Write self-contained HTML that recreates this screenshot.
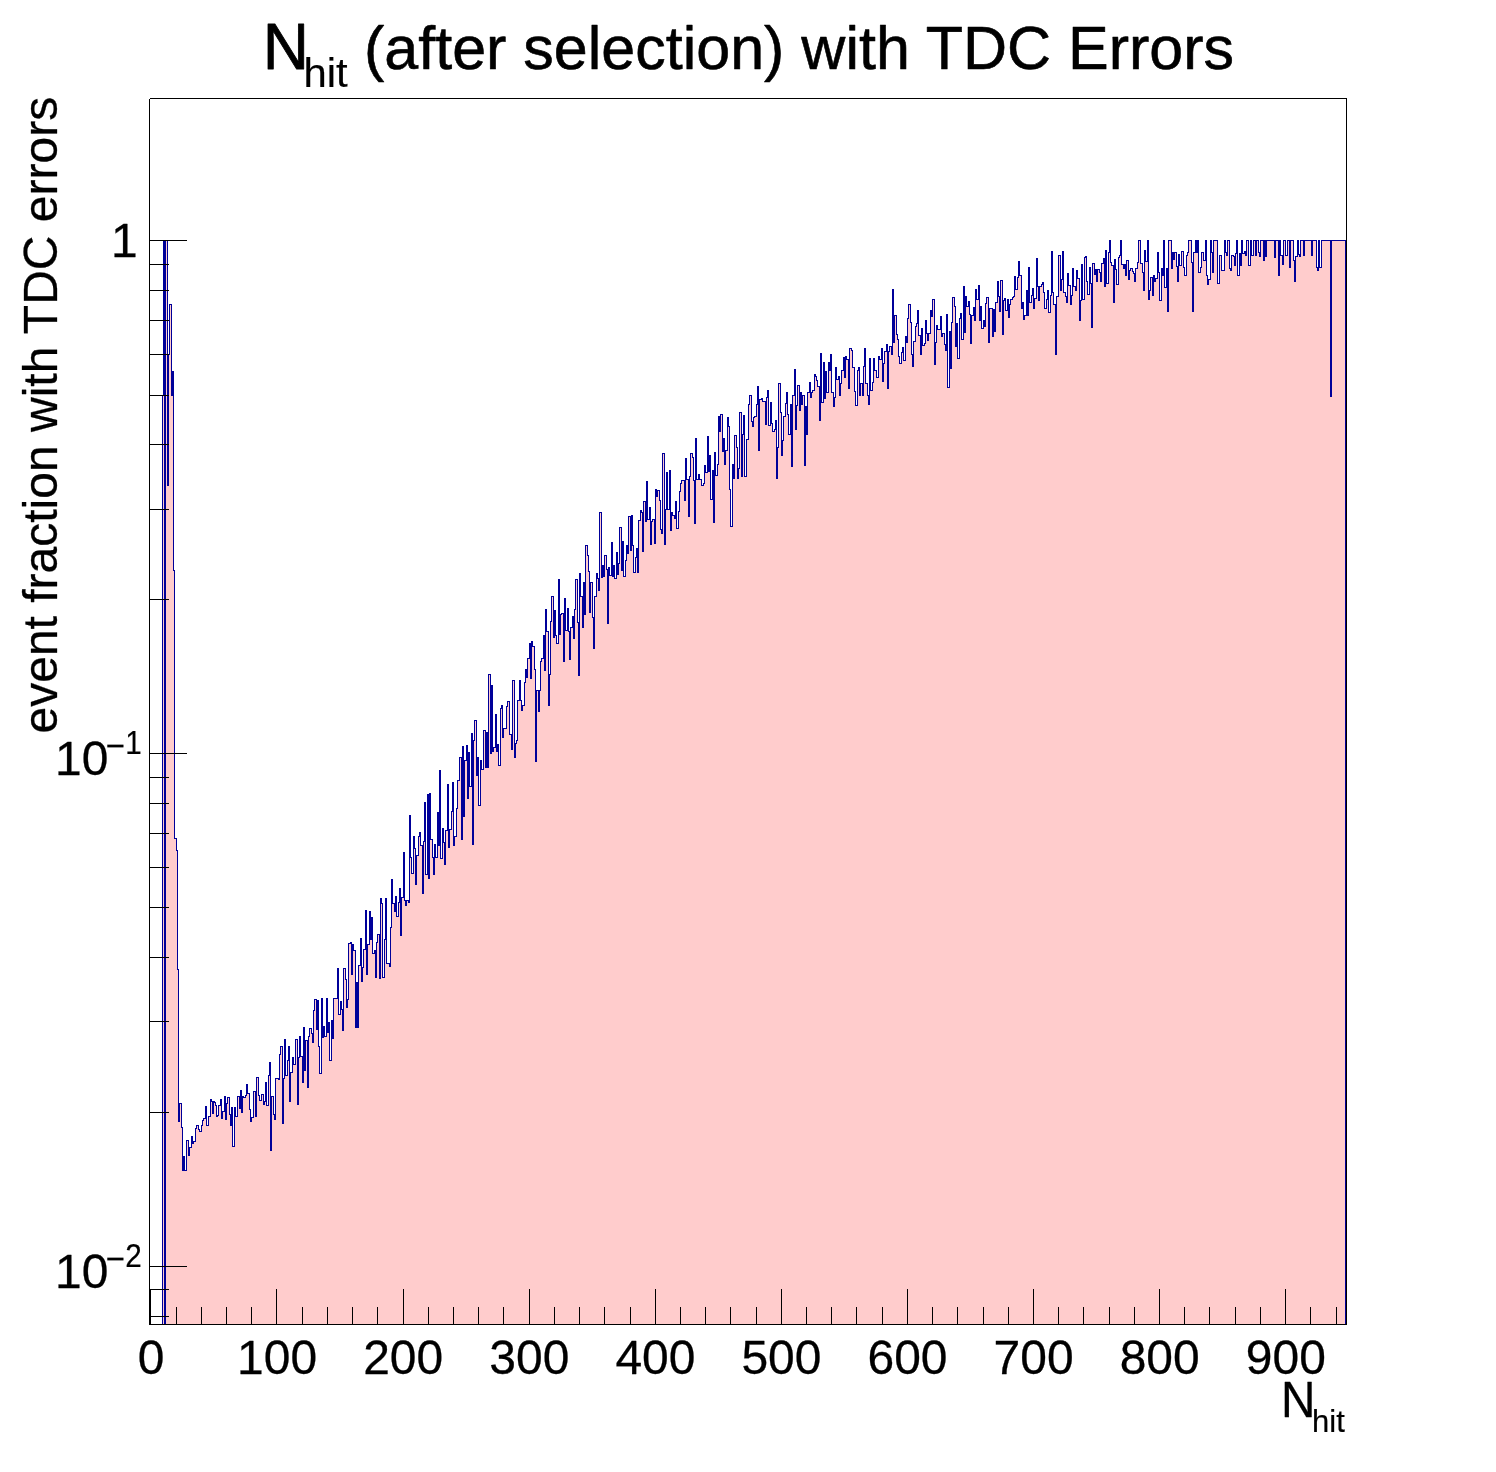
<!DOCTYPE html><html><head><meta charset="utf-8"><title>Nhit (after selection) with TDC Errors</title>
<style>html,body{margin:0;padding:0;background:#fff}svg{display:block}text{font-family:"Liberation Sans",sans-serif;fill:#000}</style></head><body>
<svg width="1496" height="1472" viewBox="0 0 1496 1472">
<rect width="1496" height="1472" fill="#fff"/>
<g shape-rendering="crispEdges">
<rect x="163" y="395" width="1" height="929" fill="#ffcccc"/>
<rect x="166" y="240" width="1" height="1084" fill="#ffcccc"/>
<rect x="167" y="486" width="2" height="838" fill="#ffcccc"/>
<rect x="169" y="354" width="1" height="970" fill="#ffcccc"/>
<rect x="170" y="304" width="1" height="1020" fill="#ffcccc"/>
<rect x="171" y="395" width="3" height="929" fill="#ffcccc"/>
<rect x="174" y="570" width="1" height="754" fill="#ffcccc"/>
<rect x="175" y="838" width="1" height="486" fill="#ffcccc"/>
<rect x="176" y="851" width="1" height="473" fill="#ffcccc"/>
<rect x="177" y="969" width="1" height="355" fill="#ffcccc"/>
<rect x="162" y="395" width="1" height="929" fill="#000099"/>
<rect x="163" y="240" width="1" height="156" fill="#000099"/>
<rect x="164" y="240" width="2" height="1084" fill="#000099"/>
<rect x="166" y="240" width="1" height="1" fill="#000099"/>
<rect x="167" y="240" width="1" height="246" fill="#000099"/>
<rect x="168" y="354" width="1" height="132" fill="#000099"/>
<rect x="169" y="304" width="1" height="51" fill="#000099"/>
<rect x="170" y="304" width="1" height="1" fill="#000099"/>
<rect x="171" y="304" width="1" height="92" fill="#000099"/>
<rect x="172" y="371" width="1" height="25" fill="#000099"/>
<rect x="173" y="371" width="1" height="200" fill="#000099"/>
<rect x="174" y="570" width="1" height="269" fill="#000099"/>
<rect x="175" y="838" width="1" height="1" fill="#000099"/>
<rect x="176" y="838" width="1" height="13" fill="#000099"/>
<rect x="177" y="850" width="1" height="120" fill="#000099"/>
<path d="M178 1324V1121H179V1103H181V1127H182V1170H183V1156H184V1170H186V1140H188V1155H189V1147H191V1136H192V1143H193V1141H195V1128H196V1125H198V1129H199V1131H201V1125H202V1120H203V1118H205V1106H206V1125H208V1116H210V1099H211V1101H212V1113H213V1101H214V1102H215V1105H216V1116H217V1115H218V1105H220V1099H221V1118H222V1111H224V1096H225V1119H226V1103H227V1097H229V1114H230V1125H231V1107H232V1146H234V1107H235V1116H237V1096H239V1108H240V1090H241V1112H242V1096H243V1097H245V1095H246V1084H247V1093H249V1109H250V1121H251V1117H253V1091H255V1116H256V1077H258V1095H259V1100H261V1094H263V1104H264V1101H265V1082H266V1105H268V1075H269V1062H270V1150H271V1096H273V1114H274V1119H275V1078H278V1079H279V1054H280V1046H282V1123H283V1078H284V1039H285V1075H287V1060H288V1046H289V1101H290V1072H292V1057H293V1064H295V1039H297V1104H298V1057H299V1036H300V1056H302V1082H303V1027H304V1070H305V1040H307V1087H308V1036H309V1028H311V1033H312V1042H313V1010H314V999H316V1029H317V1000H318V1046H319V1073H321V998H322V1037H323V1026H324V1036H326V998H327V1032H328V1022H329V1060H331V1020H332V1038H333V998H335V998H336V998H337V968H338V1014H340V1001H341V1009H342V1030H343V968H345V979H346V1007H347V999H348V943H350V942H351V974H352V944H353V950H355V1027H356V982H357V1027H358V965H360V938H361V981H362V967H363V949H365V910H366V974H367V944H369V911H370V939H371V917H372V953H374V950H375V977H376V942H377V934H379V978H380V898H381V903H382V977H384V939H385V898H386V963H389V966H390V927H391V879H392V903H394V911H395V896H396V916H398V902H399V888H400V935H401V897H403V852H404V900H405V905H406V900H408V902H409V815H410V857H411V873H413V836H414V848H415V884H416V855H418V836H419V832H420V845H422V893H423V841H424V802H425V874H427V794H428V878H429V793H430V839H432V857H433V874H434V844H435V857H437V812H438V845H439V770H440V858H442V828H443V842H444V864H445V830H447V784H448V847H449V829H451V811H452V782H453V845H454V836H456V808H457V780H459V757H461V839H462V746H463V816H464V760H466V745H467V798H468V752H469V786H471V733H472V844H473V740H474V720H476V775H477V757H478V805H480V760H481V769H483V730H485V767H486V732H487V767H488V674H490V753H491V685H492V751H493V747H495V714H496V751H497V744H498V765H500V708H501V705H502V737H503V728H506V706H507V701H509V734H511V749H512V680H514V757H515V743H516V740H517V700H519V680H520V700H521V710H522V705H524V682H525V669H526V677H527V658H529V643H530V678H531V641H532V646H534V669H535V761H536V690H538V711H539V690H540V661H541V658H543V635H544V670H545V609H546V631H548V705H549V674H550V621H551V596H553V637H554V610H555V635H556V643H558V579H559V634H560V614H561V613H563V661H564V598H565V630H567V608H568V631H569V659H570V627H572V616H573V638H574V609H575V579H577V622H578V675H579V573H580V596H582V627H583V582H584V614H585V545H587V555H588V571H589V612H590V582H592V617H593V648H594V596H596V573H597V578H598V590H599V512H601V577H602V565H603V576H604V555H606V569H607V623H608V567H609V575H611V542H612V576H613V565H614V578H616V552H617V574H618V563H619V527H621V570H622V541H623V576H625V560H626V545H627V553H628V516H630V550H631V515H632V545H633V572H635V557H636V548H637V572H638V520H640V510H641V512H642V551H643V501H645V521H646V481H647V519H649V507H650V544H651V521H652V519H654V543H655V489H656V496H657V490H659V500H660V529H661V533H662V453H664V544H665V509H666V472H667V509H669V470H670V530H671V512H672V515H674V518H675V501H676V528H678V511H679V491H680V483H681V480H684V500H685V458H686V479H688V516H689V476H690V453H692V457H693V480H694V523H695V438H696V479H698V474H699V479H701V485H703V483H704V465H705V472H707V436H708V471H709V455H710V499H712V470H713V522H714V452H715V475H717V464H718V416H719V431H720V414H722V451H723V438H724V464H725V450H727V417H728V426H729V489H730V526H732V464H733V478H734V435H736V447H737V478H738V468H739V412H741V476H742V434H743V415H744V476H746V439H748V404H749V395H751V421H752V426H753V417H754V416H756V404H757V386H758V450H759V399H761V398H762V401H765V424H766V397H767V390H768V425H770V402H771V423H772V431H774V429H775V420H776V478H777V447H778V383H780V412H781V455H782V440H783V416H785V403H786V392H787V414H788V434H790V404H791V466H792V395H794V369H795V429H796V405H797V385H799V410H800V392H801V404H802V395H804V465H805V406H806V434H807V392H809V382H810V397H811V392H812V390H814V374H815V376H816V380H817V386H819V420H820V353H821V402H823V362H824V398H825V371H826V392H828V362H829V370H830V354H831V392H833V406H834V397H835V367H836V379H838V376H839V395H840V383H841V370H843V357H844V377H845V356H846V359H848V388H849V348H851V350H852V367H854V391H855V405H857V370H858V367H859V395H860V383H862V395H863V366H864V348H865V383H867V395H868V404H869V358H870V390H872V382H873V358H874V370H876V377H878V356H879V359H881V348H882V381H883V363H884V351H886V344H887V388H888V351H889V346H891V354H892V289H893V342H894V315H896V334H897V339H898V356H899V363H901V352H902V347H903V360H905V336H906V342H907V318H908V304H910V322H911V354H912V366H913V341H915V326H916V323H917V310H918V335H920V354H921V328H922V345H924V343H925V320H926V333H927V340H928V333H930V310H931V316H932V299H934V364H935V342H936V325H937V329H940V316H941V336H942V333H944V344H945V350H946V314H947V387H949V331H950V368H951V322H952V297H954V306H955V346H956V323H957V358H959V318H960V313H961V339H963V286H964V332H965V296H966V306H968V301H969V314H970V343H971V315H973V307H974V320H975V289H976V299H978V285H979V320H980V306H981V328H983V320H984V326H985V303H986V297H988V342H989V308H992V336H993V309H994V331H995V302H997V281H998V296H999V311H1000V280H1002V334H1003V300H1004V298H1005V310H1007V299H1008V317H1009V304H1010V299H1012V297H1013V296H1014V276H1015V289H1017V277H1018V261H1019V275H1021V308H1022V302H1023V319H1024V315H1026V290H1027V315H1028V267H1029V302H1031V295H1032V288H1033V308H1034V298H1036V258H1037V286H1038V300H1039V286H1041V284H1042V282H1043V292H1044V308H1046V299H1047V290H1048V312H1050V295H1051V251H1052V292H1053V304H1055V354H1056V296H1058V255H1060V290H1061V279H1062V251H1063V292H1065V296H1066V302H1067V273H1068V285H1070V304H1071V295H1072V268H1073V286H1075V290H1076V270H1077V278H1079V320H1080V300H1081V264H1082V299H1084V257H1085V256H1086V281H1087V294H1089V267H1090V283H1091V327H1092V263H1094V274H1095V269H1096V281H1097V269H1099V272H1100V281H1101V263H1103V258H1104V286H1105V250H1106V283H1108V252H1109V240H1110V262H1111V265H1113V302H1114V259H1115V269H1116V284H1118V257H1119V255H1120V240H1121V264H1123V268H1124V264H1125V275H1126V260H1128V279H1129V270H1130V268H1132V271H1133V273H1134V281H1135V268H1137V262H1138V240H1140V263H1142V272H1143V290H1144V250H1145V261H1147V240H1148V299H1149V290H1150V277H1152V295H1153V275H1154V281H1155V278H1157V252H1158V272H1159V300H1161V268H1162V275H1163V240H1164V287H1166V268H1167V311H1168V240H1171V268H1172V252H1173V259H1174V252H1176V266H1177V281H1178V254H1179V265H1181V251H1183V267H1184V275H1186V255H1187V252H1188V240H1191V262H1192V311H1193V252H1195V240H1196V252H1197V240H1198V272H1200V267H1201V252H1203V260H1205V240H1206V275H1207V284H1208V279H1210V240H1211V252H1212V272H1213V240H1217V283H1219V255H1221V270H1224V240H1225V252H1226V255H1227V240H1229V268H1230V270H1231V255H1233V256H1234V265H1235V253H1236V240H1237V275H1239V253H1240V265H1241V240H1242V253H1244V251H1245V255H1246V240H1248V265H1250V240H1251V255H1253V240H1255V255H1256V240H1258V252H1259V256H1260V240H1263V260H1264V240H1265V256H1266V240H1274V257H1275V240H1278V275H1279V240H1280V255H1282V264H1283V240H1285V255H1287V240H1289V267H1290V240H1293V260H1294V281H1295V256H1297V240H1298V254H1299V256H1300V240H1303V255H1304V240H1311V255H1312V240H1316V267H1317V270H1318V240H1319V267H1321V240H1330V396H1331V240H1346V1324Z" fill="#ffcccc" stroke="none"/>
<path d="M178.5 969.5V1121.5H179.5V1103.5H181.5V1127.5H182.5V1170.5H183.5V1156.5H184.5V1170.5H186.5V1140.5H188.5V1155.5H189.5V1147.5H191.5V1136.5H192.5V1143.5H193.5V1141.5H195.5V1128.5H196.5V1125.5H198.5V1129.5H199.5V1131.5H201.5V1125.5H202.5V1120.5H203.5V1118.5H205.5V1106.5H206.5V1125.5H208.5V1116.5H210.5V1099.5H211.5V1101.5H212.5V1113.5H213.5V1101.5H214.5V1102.5H215.5V1105.5H216.5V1116.5H217.5V1115.5H218.5V1105.5H220.5V1099.5H221.5V1118.5H222.5V1111.5H224.5V1096.5H225.5V1119.5H226.5V1103.5H227.5V1097.5H229.5V1114.5H230.5V1125.5H231.5V1107.5H232.5V1146.5H234.5V1107.5H235.5V1116.5H237.5V1096.5H239.5V1108.5H240.5V1090.5H241.5V1112.5H242.5V1096.5H243.5V1097.5H245.5V1095.5H246.5V1084.5H247.5V1093.5H249.5V1109.5H250.5V1121.5H251.5V1117.5H253.5V1091.5H255.5V1116.5H256.5V1077.5H258.5V1095.5H259.5V1100.5H261.5V1094.5H263.5V1104.5H264.5V1101.5H265.5V1082.5H266.5V1105.5H268.5V1075.5H269.5V1062.5H270.5V1150.5H271.5V1096.5H273.5V1114.5H274.5V1119.5H275.5V1078.5H278.5V1079.5H279.5V1054.5H280.5V1046.5H282.5V1123.5H283.5V1078.5H284.5V1039.5H285.5V1075.5H287.5V1060.5H288.5V1046.5H289.5V1101.5H290.5V1072.5H292.5V1057.5H293.5V1064.5H295.5V1039.5H297.5V1104.5H298.5V1057.5H299.5V1036.5H300.5V1056.5H302.5V1082.5H303.5V1027.5H304.5V1070.5H305.5V1040.5H307.5V1087.5H308.5V1036.5H309.5V1028.5H311.5V1033.5H312.5V1042.5H313.5V1010.5H314.5V999.5H316.5V1029.5H317.5V1000.5H318.5V1046.5H319.5V1073.5H321.5V998.5H322.5V1037.5H323.5V1026.5H324.5V1036.5H326.5V998.5H327.5V1032.5H328.5V1022.5H329.5V1060.5H331.5V1020.5H332.5V1038.5H333.5V998.5H335.5V998.5H336.5V998.5H337.5V968.5H338.5V1014.5H340.5V1001.5H341.5V1009.5H342.5V1030.5H343.5V968.5H345.5V979.5H346.5V1007.5H347.5V999.5H348.5V943.5H350.5V942.5H351.5V974.5H352.5V944.5H353.5V950.5H355.5V1027.5H356.5V982.5H357.5V1027.5H358.5V965.5H360.5V938.5H361.5V981.5H362.5V967.5H363.5V949.5H365.5V910.5H366.5V974.5H367.5V944.5H369.5V911.5H370.5V939.5H371.5V917.5H372.5V953.5H374.5V950.5H375.5V977.5H376.5V942.5H377.5V934.5H379.5V978.5H380.5V898.5H381.5V903.5H382.5V977.5H384.5V939.5H385.5V898.5H386.5V963.5H389.5V966.5H390.5V927.5H391.5V879.5H392.5V903.5H394.5V911.5H395.5V896.5H396.5V916.5H398.5V902.5H399.5V888.5H400.5V935.5H401.5V897.5H403.5V852.5H404.5V900.5H405.5V905.5H406.5V900.5H408.5V902.5H409.5V815.5H410.5V857.5H411.5V873.5H413.5V836.5H414.5V848.5H415.5V884.5H416.5V855.5H418.5V836.5H419.5V832.5H420.5V845.5H422.5V893.5H423.5V841.5H424.5V802.5H425.5V874.5H427.5V794.5H428.5V878.5H429.5V793.5H430.5V839.5H432.5V857.5H433.5V874.5H434.5V844.5H435.5V857.5H437.5V812.5H438.5V845.5H439.5V770.5H440.5V858.5H442.5V828.5H443.5V842.5H444.5V864.5H445.5V830.5H447.5V784.5H448.5V847.5H449.5V829.5H451.5V811.5H452.5V782.5H453.5V845.5H454.5V836.5H456.5V808.5H457.5V780.5H459.5V757.5H461.5V839.5H462.5V746.5H463.5V816.5H464.5V760.5H466.5V745.5H467.5V798.5H468.5V752.5H469.5V786.5H471.5V733.5H472.5V844.5H473.5V740.5H474.5V720.5H476.5V775.5H477.5V757.5H478.5V805.5H480.5V760.5H481.5V769.5H483.5V730.5H485.5V767.5H486.5V732.5H487.5V767.5H488.5V674.5H490.5V753.5H491.5V685.5H492.5V751.5H493.5V747.5H495.5V714.5H496.5V751.5H497.5V744.5H498.5V765.5H500.5V708.5H501.5V705.5H502.5V737.5H503.5V728.5H506.5V706.5H507.5V701.5H509.5V734.5H511.5V749.5H512.5V680.5H514.5V757.5H515.5V743.5H516.5V740.5H517.5V700.5H519.5V680.5H520.5V700.5H521.5V710.5H522.5V705.5H524.5V682.5H525.5V669.5H526.5V677.5H527.5V658.5H529.5V643.5H530.5V678.5H531.5V641.5H532.5V646.5H534.5V669.5H535.5V761.5H536.5V690.5H538.5V711.5H539.5V690.5H540.5V661.5H541.5V658.5H543.5V635.5H544.5V670.5H545.5V609.5H546.5V631.5H548.5V705.5H549.5V674.5H550.5V621.5H551.5V596.5H553.5V637.5H554.5V610.5H555.5V635.5H556.5V643.5H558.5V579.5H559.5V634.5H560.5V614.5H561.5V613.5H563.5V661.5H564.5V598.5H565.5V630.5H567.5V608.5H568.5V631.5H569.5V659.5H570.5V627.5H572.5V616.5H573.5V638.5H574.5V609.5H575.5V579.5H577.5V622.5H578.5V675.5H579.5V573.5H580.5V596.5H582.5V627.5H583.5V582.5H584.5V614.5H585.5V545.5H587.5V555.5H588.5V571.5H589.5V612.5H590.5V582.5H592.5V617.5H593.5V648.5H594.5V596.5H596.5V573.5H597.5V578.5H598.5V590.5H599.5V512.5H601.5V577.5H602.5V565.5H603.5V576.5H604.5V555.5H606.5V569.5H607.5V623.5H608.5V567.5H609.5V575.5H611.5V542.5H612.5V576.5H613.5V565.5H614.5V578.5H616.5V552.5H617.5V574.5H618.5V563.5H619.5V527.5H621.5V570.5H622.5V541.5H623.5V576.5H625.5V560.5H626.5V545.5H627.5V553.5H628.5V516.5H630.5V550.5H631.5V515.5H632.5V545.5H633.5V572.5H635.5V557.5H636.5V548.5H637.5V572.5H638.5V520.5H640.5V510.5H641.5V512.5H642.5V551.5H643.5V501.5H645.5V521.5H646.5V481.5H647.5V519.5H649.5V507.5H650.5V544.5H651.5V521.5H652.5V519.5H654.5V543.5H655.5V489.5H656.5V496.5H657.5V490.5H659.5V500.5H660.5V529.5H661.5V533.5H662.5V453.5H664.5V544.5H665.5V509.5H666.5V472.5H667.5V509.5H669.5V470.5H670.5V530.5H671.5V512.5H672.5V515.5H674.5V518.5H675.5V501.5H676.5V528.5H678.5V511.5H679.5V491.5H680.5V483.5H681.5V480.5H684.5V500.5H685.5V458.5H686.5V479.5H688.5V516.5H689.5V476.5H690.5V453.5H692.5V457.5H693.5V480.5H694.5V523.5H695.5V438.5H696.5V479.5H698.5V474.5H699.5V479.5H701.5V485.5H703.5V483.5H704.5V465.5H705.5V472.5H707.5V436.5H708.5V471.5H709.5V455.5H710.5V499.5H712.5V470.5H713.5V522.5H714.5V452.5H715.5V475.5H717.5V464.5H718.5V416.5H719.5V431.5H720.5V414.5H722.5V451.5H723.5V438.5H724.5V464.5H725.5V450.5H727.5V417.5H728.5V426.5H729.5V489.5H730.5V526.5H732.5V464.5H733.5V478.5H734.5V435.5H736.5V447.5H737.5V478.5H738.5V468.5H739.5V412.5H741.5V476.5H742.5V434.5H743.5V415.5H744.5V476.5H746.5V439.5H748.5V404.5H749.5V395.5H751.5V421.5H752.5V426.5H753.5V417.5H754.5V416.5H756.5V404.5H757.5V386.5H758.5V450.5H759.5V399.5H761.5V398.5H762.5V401.5H765.5V424.5H766.5V397.5H767.5V390.5H768.5V425.5H770.5V402.5H771.5V423.5H772.5V431.5H774.5V429.5H775.5V420.5H776.5V478.5H777.5V447.5H778.5V383.5H780.5V412.5H781.5V455.5H782.5V440.5H783.5V416.5H785.5V403.5H786.5V392.5H787.5V414.5H788.5V434.5H790.5V404.5H791.5V466.5H792.5V395.5H794.5V369.5H795.5V429.5H796.5V405.5H797.5V385.5H799.5V410.5H800.5V392.5H801.5V404.5H802.5V395.5H804.5V465.5H805.5V406.5H806.5V434.5H807.5V392.5H809.5V382.5H810.5V397.5H811.5V392.5H812.5V390.5H814.5V374.5H815.5V376.5H816.5V380.5H817.5V386.5H819.5V420.5H820.5V353.5H821.5V402.5H823.5V362.5H824.5V398.5H825.5V371.5H826.5V392.5H828.5V362.5H829.5V370.5H830.5V354.5H831.5V392.5H833.5V406.5H834.5V397.5H835.5V367.5H836.5V379.5H838.5V376.5H839.5V395.5H840.5V383.5H841.5V370.5H843.5V357.5H844.5V377.5H845.5V356.5H846.5V359.5H848.5V388.5H849.5V348.5H851.5V350.5H852.5V367.5H854.5V391.5H855.5V405.5H857.5V370.5H858.5V367.5H859.5V395.5H860.5V383.5H862.5V395.5H863.5V366.5H864.5V348.5H865.5V383.5H867.5V395.5H868.5V404.5H869.5V358.5H870.5V390.5H872.5V382.5H873.5V358.5H874.5V370.5H876.5V377.5H878.5V356.5H879.5V359.5H881.5V348.5H882.5V381.5H883.5V363.5H884.5V351.5H886.5V344.5H887.5V388.5H888.5V351.5H889.5V346.5H891.5V354.5H892.5V289.5H893.5V342.5H894.5V315.5H896.5V334.5H897.5V339.5H898.5V356.5H899.5V363.5H901.5V352.5H902.5V347.5H903.5V360.5H905.5V336.5H906.5V342.5H907.5V318.5H908.5V304.5H910.5V322.5H911.5V354.5H912.5V366.5H913.5V341.5H915.5V326.5H916.5V323.5H917.5V310.5H918.5V335.5H920.5V354.5H921.5V328.5H922.5V345.5H924.5V343.5H925.5V320.5H926.5V333.5H927.5V340.5H928.5V333.5H930.5V310.5H931.5V316.5H932.5V299.5H934.5V364.5H935.5V342.5H936.5V325.5H937.5V329.5H940.5V316.5H941.5V336.5H942.5V333.5H944.5V344.5H945.5V350.5H946.5V314.5H947.5V387.5H949.5V331.5H950.5V368.5H951.5V322.5H952.5V297.5H954.5V306.5H955.5V346.5H956.5V323.5H957.5V358.5H959.5V318.5H960.5V313.5H961.5V339.5H963.5V286.5H964.5V332.5H965.5V296.5H966.5V306.5H968.5V301.5H969.5V314.5H970.5V343.5H971.5V315.5H973.5V307.5H974.5V320.5H975.5V289.5H976.5V299.5H978.5V285.5H979.5V320.5H980.5V306.5H981.5V328.5H983.5V320.5H984.5V326.5H985.5V303.5H986.5V297.5H988.5V342.5H989.5V308.5H992.5V336.5H993.5V309.5H994.5V331.5H995.5V302.5H997.5V281.5H998.5V296.5H999.5V311.5H1000.5V280.5H1002.5V334.5H1003.5V300.5H1004.5V298.5H1005.5V310.5H1007.5V299.5H1008.5V317.5H1009.5V304.5H1010.5V299.5H1012.5V297.5H1013.5V296.5H1014.5V276.5H1015.5V289.5H1017.5V277.5H1018.5V261.5H1019.5V275.5H1021.5V308.5H1022.5V302.5H1023.5V319.5H1024.5V315.5H1026.5V290.5H1027.5V315.5H1028.5V267.5H1029.5V302.5H1031.5V295.5H1032.5V288.5H1033.5V308.5H1034.5V298.5H1036.5V258.5H1037.5V286.5H1038.5V300.5H1039.5V286.5H1041.5V284.5H1042.5V282.5H1043.5V292.5H1044.5V308.5H1046.5V299.5H1047.5V290.5H1048.5V312.5H1050.5V295.5H1051.5V251.5H1052.5V292.5H1053.5V304.5H1055.5V354.5H1056.5V296.5H1058.5V255.5H1060.5V290.5H1061.5V279.5H1062.5V251.5H1063.5V292.5H1065.5V296.5H1066.5V302.5H1067.5V273.5H1068.5V285.5H1070.5V304.5H1071.5V295.5H1072.5V268.5H1073.5V286.5H1075.5V290.5H1076.5V270.5H1077.5V278.5H1079.5V320.5H1080.5V300.5H1081.5V264.5H1082.5V299.5H1084.5V257.5H1085.5V256.5H1086.5V281.5H1087.5V294.5H1089.5V267.5H1090.5V283.5H1091.5V327.5H1092.5V263.5H1094.5V274.5H1095.5V269.5H1096.5V281.5H1097.5V269.5H1099.5V272.5H1100.5V281.5H1101.5V263.5H1103.5V258.5H1104.5V286.5H1105.5V250.5H1106.5V283.5H1108.5V252.5H1109.5V240.5H1110.5V262.5H1111.5V265.5H1113.5V302.5H1114.5V259.5H1115.5V269.5H1116.5V284.5H1118.5V257.5H1119.5V255.5H1120.5V240.5H1121.5V264.5H1123.5V268.5H1124.5V264.5H1125.5V275.5H1126.5V260.5H1128.5V279.5H1129.5V270.5H1130.5V268.5H1132.5V271.5H1133.5V273.5H1134.5V281.5H1135.5V268.5H1137.5V262.5H1138.5V240.5H1140.5V263.5H1142.5V272.5H1143.5V290.5H1144.5V250.5H1145.5V261.5H1147.5V240.5H1148.5V299.5H1149.5V290.5H1150.5V277.5H1152.5V295.5H1153.5V275.5H1154.5V281.5H1155.5V278.5H1157.5V252.5H1158.5V272.5H1159.5V300.5H1161.5V268.5H1162.5V275.5H1163.5V240.5H1164.5V287.5H1166.5V268.5H1167.5V311.5H1168.5V240.5H1171.5V268.5H1172.5V252.5H1173.5V259.5H1174.5V252.5H1176.5V266.5H1177.5V281.5H1178.5V254.5H1179.5V265.5H1181.5V251.5H1183.5V267.5H1184.5V275.5H1186.5V255.5H1187.5V252.5H1188.5V240.5H1191.5V262.5H1192.5V311.5H1193.5V252.5H1195.5V240.5H1196.5V252.5H1197.5V240.5H1198.5V272.5H1200.5V267.5H1201.5V252.5H1203.5V260.5H1205.5V240.5H1206.5V275.5H1207.5V284.5H1208.5V279.5H1210.5V240.5H1211.5V252.5H1212.5V272.5H1213.5V240.5H1217.5V283.5H1219.5V255.5H1221.5V270.5H1224.5V240.5H1225.5V252.5H1226.5V255.5H1227.5V240.5H1229.5V268.5H1230.5V270.5H1231.5V255.5H1233.5V256.5H1234.5V265.5H1235.5V253.5H1236.5V240.5H1237.5V275.5H1239.5V253.5H1240.5V265.5H1241.5V240.5H1242.5V253.5H1244.5V251.5H1245.5V255.5H1246.5V240.5H1248.5V265.5H1250.5V240.5H1251.5V255.5H1253.5V240.5H1255.5V255.5H1256.5V240.5H1258.5V252.5H1259.5V256.5H1260.5V240.5H1263.5V260.5H1264.5V240.5H1265.5V256.5H1266.5V240.5H1274.5V257.5H1275.5V240.5H1278.5V275.5H1279.5V240.5H1280.5V255.5H1282.5V264.5H1283.5V240.5H1285.5V255.5H1287.5V240.5H1289.5V267.5H1290.5V240.5H1293.5V260.5H1294.5V281.5H1295.5V256.5H1297.5V240.5H1298.5V254.5H1299.5V256.5H1300.5V240.5H1303.5V255.5H1304.5V240.5H1311.5V255.5H1312.5V240.5H1316.5V267.5H1317.5V270.5H1318.5V240.5H1319.5V267.5H1321.5V240.5H1330.5V396.5H1331.5V240.5H1345.5V1324" fill="none" stroke="#000099" stroke-width="1" stroke-linejoin="miter" stroke-linecap="square"/>
</g>
<g stroke="#000" stroke-width="1" fill="none" shape-rendering="crispEdges">
<path d="M149.5 98.5H1346.5M149.5 1324.5H1346.5M149.5 98.5V1324.5"/>
<path d="M150.5 1324.5V1289.0M176.5 1324.5V1307.0M201.5 1324.5V1307.0M226.5 1324.5V1307.0M251.5 1324.5V1307.0M276.5 1324.5V1289.0M302.5 1324.5V1307.0M327.5 1324.5V1307.0M352.5 1324.5V1307.0M377.5 1324.5V1307.0M403.5 1324.5V1289.0M428.5 1324.5V1307.0M453.5 1324.5V1307.0M478.5 1324.5V1307.0M503.5 1324.5V1307.0M529.5 1324.5V1289.0M554.5 1324.5V1307.0M579.5 1324.5V1307.0M604.5 1324.5V1307.0M630.5 1324.5V1307.0M655.5 1324.5V1289.0M680.5 1324.5V1307.0M705.5 1324.5V1307.0M730.5 1324.5V1307.0M756.5 1324.5V1307.0M781.5 1324.5V1289.0M806.5 1324.5V1307.0M831.5 1324.5V1307.0M856.5 1324.5V1307.0M882.5 1324.5V1307.0M907.5 1324.5V1289.0M932.5 1324.5V1307.0M957.5 1324.5V1307.0M983.5 1324.5V1307.0M1008.5 1324.5V1307.0M1033.5 1324.5V1289.0M1058.5 1324.5V1307.0M1083.5 1324.5V1307.0M1109.5 1324.5V1307.0M1134.5 1324.5V1307.0M1159.5 1324.5V1289.0M1184.5 1324.5V1307.0M1209.5 1324.5V1307.0M1235.5 1324.5V1307.0M1260.5 1324.5V1307.0M1285.5 1324.5V1289.0M1310.5 1324.5V1307.0M1336.5 1324.5V1307.0"/>
<path d="M149.5 240.5H187.0M149.5 264.5H169.0M149.5 290.5H169.0M149.5 320.5H169.0M149.5 354.5H169.0M149.5 395.5H169.0M149.5 444.5H169.0M149.5 509.5H169.0M149.5 599.5H169.0M149.5 753.5H187.0M149.5 777.5H169.0M149.5 803.5H169.0M149.5 833.5H169.0M149.5 867.5H169.0M149.5 907.5H169.0M149.5 957.5H169.0M149.5 1021.5H169.0M149.5 1112.5H169.0M149.5 1266.5H187.0M149.5 1289.5H169.0M149.5 1316.5H169.0"/>
</g>
<path d="M1346.5 98.5V1324.5" stroke="#000" stroke-width="1" fill="none" shape-rendering="crispEdges"/>
<text transform="translate(262.8 68.8)" font-size="64.0" text-anchor="start"  stroke="#000" stroke-width="0.8" stroke-linejoin="round">N</text>
<text transform="translate(303.4 87.1) scale(1.02 1)" font-size="41.0" text-anchor="start"  stroke="#000" stroke-width="0.2" stroke-linejoin="round">hit</text>
<text transform="translate(364 68.8) scale(0.992 1)" font-size="61.5" text-anchor="start"  stroke="#000" stroke-width="0.6" stroke-linejoin="round">(after selection) with TDC Errors</text>
<text transform="translate(151.1 1373.6) scale(0.985 1)" font-size="48.7" text-anchor="middle"  stroke="#000" stroke-width="0.3" stroke-linejoin="round">0</text>
<text transform="translate(277.1 1373.6) scale(0.985 1)" font-size="48.7" text-anchor="middle"  stroke="#000" stroke-width="0.3" stroke-linejoin="round">100</text>
<text transform="translate(403.2 1373.6) scale(0.985 1)" font-size="48.7" text-anchor="middle"  stroke="#000" stroke-width="0.3" stroke-linejoin="round">200</text>
<text transform="translate(529.3 1373.6) scale(0.985 1)" font-size="48.7" text-anchor="middle"  stroke="#000" stroke-width="0.3" stroke-linejoin="round">300</text>
<text transform="translate(655.4 1373.6) scale(0.985 1)" font-size="48.7" text-anchor="middle"  stroke="#000" stroke-width="0.3" stroke-linejoin="round">400</text>
<text transform="translate(781.4 1373.6) scale(0.985 1)" font-size="48.7" text-anchor="middle"  stroke="#000" stroke-width="0.3" stroke-linejoin="round">500</text>
<text transform="translate(907.5 1373.6) scale(0.985 1)" font-size="48.7" text-anchor="middle"  stroke="#000" stroke-width="0.3" stroke-linejoin="round">600</text>
<text transform="translate(1033.6 1373.6) scale(0.985 1)" font-size="48.7" text-anchor="middle"  stroke="#000" stroke-width="0.3" stroke-linejoin="round">700</text>
<text transform="translate(1159.7 1373.6) scale(0.985 1)" font-size="48.7" text-anchor="middle"  stroke="#000" stroke-width="0.3" stroke-linejoin="round">800</text>
<text transform="translate(1285.8 1373.6) scale(0.985 1)" font-size="48.7" text-anchor="middle"  stroke="#000" stroke-width="0.3" stroke-linejoin="round">900</text>
<text transform="translate(137.6 256.6) scale(0.985 1)" font-size="48.7" text-anchor="end"  stroke="#000" stroke-width="0.3" stroke-linejoin="round">1</text>
<text transform="translate(55.0 774.9) scale(0.985 1)" font-size="48.7" text-anchor="start"  stroke="#000" stroke-width="0.3" stroke-linejoin="round">10</text>
<text transform="translate(105.6 756.8)" font-size="33" text-anchor="start"  stroke="#000" stroke-width="0.2" stroke-linejoin="round">−</text>
<text transform="translate(125.3 754.1) scale(0.9 1)" font-size="33" text-anchor="start"  stroke="#000" stroke-width="0.2" stroke-linejoin="round">1</text>
<text transform="translate(55.0 1287.9) scale(0.985 1)" font-size="48.7" text-anchor="start"  stroke="#000" stroke-width="0.3" stroke-linejoin="round">10</text>
<text transform="translate(105.6 1269.8)" font-size="33" text-anchor="start"  stroke="#000" stroke-width="0.2" stroke-linejoin="round">−</text>
<text transform="translate(125.3 1267.1) scale(0.9 1)" font-size="33" text-anchor="start"  stroke="#000" stroke-width="0.2" stroke-linejoin="round">2</text>
<text transform="translate(1281.0 1417.0) scale(0.955 1)" font-size="50.0" text-anchor="start"  stroke="#000" stroke-width="0.3" stroke-linejoin="round">N</text>
<text transform="translate(1312 1431.8) scale(1.01 1)" font-size="30.7" text-anchor="start"  stroke="#000" stroke-width="0.2" stroke-linejoin="round">hit</text>
<text transform="translate(57.4 733.5) rotate(-90)" font-size="48.0" text-anchor="start"  stroke="#000" stroke-width="0.3" stroke-linejoin="round">event fraction with TDC errors</text>
</svg></body></html>
